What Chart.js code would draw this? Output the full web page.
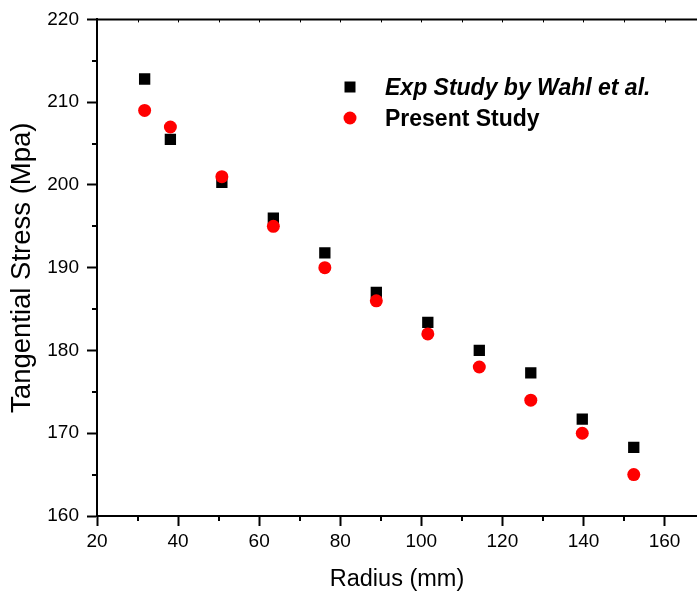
<!DOCTYPE html>
<html>
<head>
<meta charset="utf-8">
<script src="https://cdn.jsdelivr.net/npm/chart.js"></script>
<style>
  html, body { margin: 0; padding: 0; background: #fff; overflow: hidden; }
  canvas { display: block; position: absolute; left: 0; top: 0; }
</style>
</head>
<body>
<canvas id="c" width="697" height="595"></canvas>
<script>
// data
const radius        = [31.75, 38.1, 50.8, 63.5, 76.2, 88.9, 101.6, 114.3, 127, 139.7, 152.4];
const expStress     = [212.8, 205.5, 200.3, 196.0, 191.8, 187.0, 183.4, 180.0, 177.3, 171.7, 168.3];
const presentStress = [209.0, 207.0, 201.0, 195.0, 190.0, 186.0, 182.0, 178.0, 174.0, 170.0, 165.0];

const xTicks      = [20, 40, 60, 80, 100, 120, 140, 160];
const xMinorTicks = [30, 50, 70, 90, 110, 130, 150];
const xTopTicks   = [20, 30, 40, 50, 60, 70, 80, 90, 100, 110, 120, 130, 140, 150, 160];
const yTicks      = [160, 170, 180, 190, 200, 210, 220];
const yMinorTicks = [165, 175, 185, 195, 205, 215];

const FONT = '"Liberation Sans", Arial, Helvetica, sans-serif';

const toXY = (xs, ys) => xs.map((x, i) => ({ x: x, y: ys[i] }));

// minor ticks, top frame line and the inside legend
const extras = {
  id: 'extras',
  afterDraw(chart) {
    const ctx = chart.ctx;
    const xs = chart.scales.x, ys = chart.scales.y;
    const a = chart.chartArea;
    ctx.save();
    ctx.strokeStyle = '#000';
    ctx.lineWidth = 2;
    ctx.beginPath();
    xMinorTicks.forEach(v => {
      const px = Math.round(xs.getPixelForValue(v));
      ctx.moveTo(px, a.bottom); ctx.lineTo(px, a.bottom + 5);
    });
    yMinorTicks.forEach(v => {
      const py = Math.round(ys.getPixelForValue(v));
      ctx.moveTo(a.left, py); ctx.lineTo(a.left - 5, py);
    });
    ctx.stroke();

    // top frame
    ctx.beginPath();
    ctx.moveTo(a.left - 1, a.top); ctx.lineTo(chart.width, a.top);
    ctx.stroke();
    ctx.lineWidth = 1;
    ctx.beginPath();
    xTopTicks.forEach(v => {
      const px = Math.round(xs.getPixelForValue(v)) + 0.5;
      ctx.moveTo(px, a.top); ctx.lineTo(px, a.top + 3);
    });
    ctx.stroke();

    // legend
    const ds = chart.data.datasets;
    const mx = 350;
    const rows = [
      { y: 87,  font: 'italic bold 23px ' + FONT },
      { y: 118, font: 'bold 23px ' + FONT }
    ];
    ds.forEach((d, i) => {
      const r = rows[i];
      ctx.fillStyle = d.backgroundColor;
      ctx.beginPath();
      if (d.pointStyle === 'rect') {
        ctx.rect(mx - 5.5, r.y - 5.5, 11, 11);
      } else {
        ctx.arc(mx, r.y, 6.5, 0, Math.PI * 2);
      }
      ctx.fill();
      ctx.fillStyle = '#000';
      ctx.font = r.font;
      ctx.textAlign = 'left';
      ctx.textBaseline = 'alphabetic';
      ctx.fillText(d.label, 385, r.y + 8);
    });
    ctx.restore();
  }
};

new Chart(document.getElementById('c'), {
  type: 'scatter',
  data: {
    datasets: [
      {
        label: 'Exp Study by Wahl et al.',
        data: toXY(radius, expStress),
        pointStyle: 'rect',
        pointRadius: 8,
        pointHoverRadius: 8,
        backgroundColor: '#000000',
        borderColor: '#000000',
        borderWidth: 0,
        order: 2
      },
      {
        label: 'Present Study',
        data: toXY(radius, presentStress),
        pointStyle: 'circle',
        pointRadius: 6.5,
        pointHoverRadius: 6.5,
        backgroundColor: '#ff0000',
        borderColor: '#ff0000',
        borderWidth: 0,
        order: 1
      }
    ]
  },
  options: {
    responsive: false,
    animation: false,
    layout: { padding: { top: 16, right: 0, left: 0, bottom: 0 }, autoPadding: false },
    plugins: {
      legend: { display: false },
      tooltip: { enabled: false }
    },
    scales: {
      x: {
        type: 'linear',
        min: 20,
        max: 168,
        afterBuildTicks: s => { s.ticks = xTicks.map(v => ({ value: v })); },
        afterFit: s => { s.height = 79; s.paddingRight = 0; s.paddingLeft = 0; },
        ticks: {
          color: '#000',
          font: { family: FONT, size: 19 },
          padding: 4,
          maxRotation: 0,
          autoSkip: false
        },
        grid: {
          display: true,
          drawOnChartArea: false,
          drawTicks: true,
          tickLength: 10,
          tickWidth: 2,
          tickColor: '#000'
        },
        border: { display: true, color: '#000', width: 2 },
        title: {
          display: true,
          text: 'Radius (mm)',
          color: '#000',
          font: { family: FONT, size: 23.5 },
          padding: { top: 0, bottom: 1 }
        }
      },
      y: {
        type: 'linear',
        min: 160,
        max: 220,
        afterBuildTicks: s => { s.ticks = yTicks.map(v => ({ value: v })); },
        afterFit: s => { s.width = 97; },
        ticks: {
          color: '#000',
          font: { family: FONT, size: 19 },
          padding: 8,
          autoSkip: false
        },
        grid: {
          display: true,
          drawOnChartArea: false,
          drawTicks: true,
          tickLength: 10,
          tickWidth: 2,
          tickColor: '#000'
        },
        border: { display: true, color: '#000', width: 2 },
        title: {
          display: true,
          text: 'Tangential Stress (Mpa)',
          color: '#000',
          font: { family: FONT, size: 27.5 },
          padding: { top: 6, bottom: 0 }
        }
      }
    }
  },
  plugins: [extras]
});
</script>
</body>
</html>
